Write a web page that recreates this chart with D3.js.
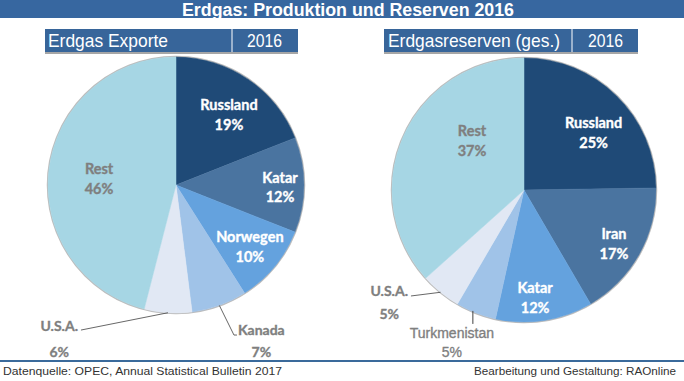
<!DOCTYPE html>
<html><head><meta charset="utf-8">
<script src="https://cdn.jsdelivr.net/npm/d3@7"></script>
<style>body{margin:0;background:#fff}svg{display:block}</style>
</head><body>
<svg id="c" width="684" height="381"></svg>
<script>
// ---- data ----
const titleText = "Erdgas: Produktion und Reserven 2016";
const exportHeader = ["Erdgas Exporte", "2016"];
const exportCategories = ["Russland", "Katar", "Norwegen", "Kanada", "U.S.A.", "Rest"];
const exportValues = [19, 12, 10, 7, 6, 46];
const reserveHeader = ["Erdgasreserven (ges.)", "2016"];
const reserveCategories = ["Russland", "Iran", "Katar", "Turkmenistan", "U.S.A.", "Rest"];
const reserveValues = [25, 17, 12, 5, 5, 37];
const sourceText = "Datenquelle: OPEC, Annual Statistical Bulletin 2017";
const creditText = "Bearbeitung und Gestaltung: RAOnline";

// ---- styles / layout ----
const sliceColors = ["#1F4A77", "#4A74A0", "#64A2DE", "#A0C3E8", "#E1E8F4", "#A6D6E4"];
const insideText = ["#FFFFFF", "#FFFFFF", "#FFFFFF", null, null, "#7F7F7F"];
const barBlue = "#3767A0";
const headBlue = "#37659A";
const narrow = "'Liberation Sans Narrow','Arial Narrow','Liberation Sans',Arial,sans-serif";
const labelFont = "Lato,'Open Sans',sans-serif";

const svg = d3.select("#c");

function fitText(sel, w) {
  sel.attr("textLength", w).attr("lengthAdjust", "spacingAndGlyphs");
}
function heavy(sel, color) {
  sel.attr("stroke", color).attr("stroke-width", 0.35).attr("paint-order", "stroke");
}

// title bar
svg.append("rect").attr("x", 0).attr("y", 0).attr("width", 684).attr("height", 18).attr("fill", barBlue);
fitText(svg.append("text").attr("x", 182).attr("y", 15.5)
  .attr("font-family", narrow).attr("font-weight", "bold").attr("font-size", 18)
  .attr("fill", "#fff").text(titleText), 332);

// footer
svg.append("line").attr("x1", 0).attr("x2", 684).attr("y1", 361).attr("y2", 361)
  .attr("stroke", "#3A6A9B").attr("stroke-width", 2);
fitText(svg.append("text").attr("x", 3).attr("y", 375)
  .attr("font-family", "'Liberation Sans',Arial,sans-serif").attr("font-size", 11.5)
  .attr("fill", "#333").text(sourceText), 279);
fitText(svg.append("text").attr("x", 474).attr("y", 375)
  .attr("font-family", "'Liberation Sans',Arial,sans-serif").attr("font-size", 11.5)
  .attr("fill", "#333").text(creditText), 202);

const charts = [
  {
    header: exportHeader, cats: exportCategories, vals: exportValues,
    box: {x: 45, y: 29, w: 253, div: 232, h: 23, tx: 48, tw: 120, yx: 247, yw: 35},
    cx: 176, cy: 185, r: 128,
    inside: {0: [0.686, 2.9], 1: [0.813, 1.1], 2: [0.749, 0], 5: [0.603, -2.7]},
    outside: {
      3: {dx: 14.6, dy: 29.6, tick: 3, anchor: "start", nx: 4, ny: 0, py: 22, font: labelFont, weight: "bold", size: 14, heavy: true},
      4: {dx: -87, dy: 17.3, anchor: "end", nx: -3, ny: 1, py: 26, font: labelFont, weight: "bold", size: 14, heavy: true}
    }
  },
  {
    header: reserveHeader, cats: reserveCategories, vals: reserveValues,
    box: {x: 384, y: 29, w: 254, div: 572, h: 23, tx: 388, tw: 172, yx: 588, yw: 35},
    cx: 524, cy: 190, r: 132,
    inside: {0: [0.684, 5.9], 1: [0.791, 1.1], 2: [0.815, 3.0], 5: [0.544, 19.5]},
    outside: {
      3: {dx: -3, dy: 11, vertical: true, anchor: "middle", nx: -21, ny: 14, py: 19, font: narrow, weight: "normal", size: 14, heavy: true},
      4: {dx: -29.6, dy: 3.7, anchor: "end", nx: -3, ny: 0, py: 23, font: labelFont, weight: "bold", size: 14, heavy: true}
    }
  }
];

charts.forEach(c => {
  const b = c.box;
  svg.append("rect").attr("x", b.x).attr("y", b.y).attr("width", b.w).attr("height", b.h).attr("fill", headBlue);
  svg.append("line").attr("x1", b.x).attr("x2", b.x + b.w).attr("y1", b.y + b.h + 1).attr("y2", b.y + b.h + 1)
    .attr("stroke", "#A6A6A6").attr("stroke-width", 2);
  svg.append("line").attr("x1", b.div).attr("x2", b.div).attr("y1", b.y).attr("y2", b.y + b.h)
    .attr("stroke", "#fff").attr("stroke-width", 1);
  fitText(svg.append("text").attr("x", b.tx).attr("y", b.y + 18)
    .attr("font-family", narrow).attr("font-size", 19).attr("fill", "#fff").text(c.header[0]), b.tw);
  fitText(svg.append("text").attr("x", b.yx).attr("y", b.y + 18)
    .attr("font-family", narrow).attr("font-size", 19).attr("fill", "#fff").text(c.header[1]), b.yw);

  const g = svg.append("g").attr("transform", `translate(${c.cx},${c.cy})`);
  const pie = d3.pie().sort(null).value(d => d)(c.vals);
  const arc = d3.arc().innerRadius(0).outerRadius(c.r);
  g.append("circle").attr("r", c.r + 0.5).attr("fill", "none").attr("stroke", "#BDBDBD").attr("stroke-width", 1.5);
  g.selectAll("path.s").data(pie).join("path").attr("class", "s")
    .attr("d", arc).attr("fill", (d, i) => sliceColors[i])
    .attr("stroke", (d, i) => sliceColors[i]).attr("stroke-width", 0.5);

  pie.forEach((d, i) => {
    const mid = (d.startAngle + d.endAngle) / 2;
    const name = c.cats[i], pct = c.vals[i] + "%";
    if (c.inside[i]) {
      const [rf, da] = c.inside[i];
      const a = mid + da * Math.PI / 180;
      const x = Math.sin(a) * c.r * rf, y = -Math.cos(a) * c.r * rf;
      [name, pct].forEach((t, k) => {
        heavy(g.append("text").attr("x", x).attr("y", y + (k ? 10 : -10))
          .attr("text-anchor", "middle").attr("dominant-baseline", "central")
          .attr("font-family", labelFont).attr("font-weight", "bold").attr("font-size", 14.5)
          .attr("fill", insideText[i]).text(t), insideText[i]);
      });
    } else if (c.outside[i]) {
      const o = c.outside[i];
      const ex = Math.sin(mid) * c.r, ey = -Math.cos(mid) * c.r;
      let lx, ly;
      if (o.vertical) {
        lx = ex + o.dx; ly = ey + o.dy;
        g.append("line").attr("x1", lx).attr("y1", ey - 2).attr("x2", lx).attr("y2", ly)
          .attr("stroke", "#404040").attr("stroke-width", 1);
      } else {
        lx = ex + o.dx; ly = ey + o.dy;
        const pts = [[ex, ey], [lx, ly]];
        if (o.tick) pts.push([lx + o.tick, ly]);
        g.append("path").attr("d", d3.line()(pts)).attr("fill", "none").attr("stroke", "#404040").attr("stroke-width", 0.8);
      }
      const nt = g.append("text").attr("x", lx + o.nx).attr("y", ly + o.ny)
        .attr("text-anchor", o.anchor).attr("font-family", o.font).attr("font-weight", o.weight)
        .attr("font-size", o.size).attr("fill", "#7F7F7F").text(name);
      if (o.heavy) heavy(nt, "#7F7F7F");
      const bb = nt.node().getBBox();
      const pt = g.append("text").attr("x", bb.x + bb.width / 2).attr("y", ly + o.ny + o.py)
        .attr("text-anchor", "middle").attr("font-family", o.font).attr("font-weight", o.weight)
        .attr("font-size", o.size).attr("fill", "#7F7F7F").text(pct);
      if (o.heavy) heavy(pt, "#7F7F7F");
    }
  });
});
</script>
</body></html>
